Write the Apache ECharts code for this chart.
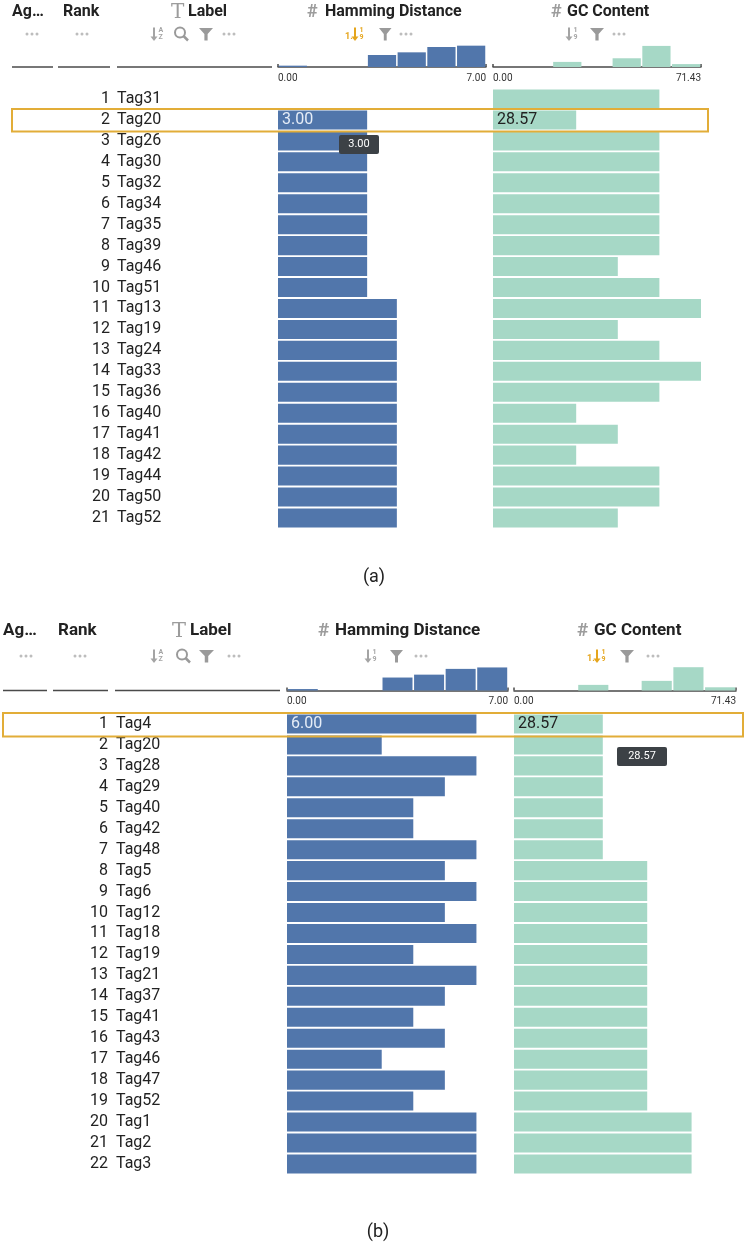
<!DOCTYPE html>
<html>
<head>
<meta charset="utf-8">
<style>
html,body{margin:0;padding:0;background:#fff;}
#chart{width:748px;height:1255px;}
</style>
<script src="https://cdn.jsdelivr.net/npm/echarts@6/dist/echarts.min.js"></script>
</head>
<body>
<div id="chart"></div>
<script>
// ---------- data ----------
const tagsA = ['Tag31','Tag20','Tag26','Tag30','Tag32','Tag34','Tag35','Tag39','Tag46','Tag51','Tag13','Tag19','Tag24','Tag33','Tag36','Tag40','Tag41','Tag42','Tag44','Tag50','Tag52'];
const hammingA = [0,3,3,3,3,3,3,3,3,3,4,4,4,4,4,4,4,4,4,4,4];
const gcA = [57.14,28.57,57.14,57.14,57.14,57.14,57.14,57.14,42.86,57.14,71.43,42.86,57.14,71.43,57.14,28.57,42.86,28.57,57.14,57.14,42.86];

const tagsB = ['Tag4','Tag20','Tag28','Tag29','Tag40','Tag42','Tag48','Tag5','Tag6','Tag12','Tag18','Tag19','Tag21','Tag37','Tag41','Tag43','Tag46','Tag47','Tag52','Tag1','Tag2','Tag3'];
const hammingB = [6,3,6,5,4,4,6,5,6,5,6,4,6,5,4,5,3,5,4,6,6,6];
const gcB = [28.57,28.57,28.57,28.57,28.57,28.57,28.57,42.86,42.86,42.86,42.86,42.86,42.86,42.86,42.86,42.86,42.86,42.86,42.86,57.14,57.14,57.14];

const hamBinCounts = [1,0,0,9,11,15,16];
const gcBinCounts = [0,0,7,0,12,29,4];
const hamMax = 7.00;
const gcMax = 71.43;

const highlightA = 1;   // row index of Tag20 in (a)
const highlightB = 0;   // row index of Tag4 in (b)

// ---------- style ----------
const FONT = 'Roboto, "Noto Sans", sans-serif';
const BLUE = '#5176ab';
const GREEN = '#a6d8c6';
const GRAY = '#a4a4a4';
const ORANGE = '#e5a51c';
const TXT = '#222';

const rowH = 20.95;
const P = {
  a: {top: 88.5, hamL: 278, gcL: 493, w: 208, histTop: 43, histBase: 67, n: tagsA.length, yMaxH: 18, yMaxG: 33},
  b: {top: 713.5, hamL: 287, gcL: 514, w: 221, wg: 222, histTop: 666, histBase: 690.5, n: tagsB.length, yMaxH: 17, yMaxG: 30.5}
};

const ranksA = tagsA.map((t,i)=>String(i+1));
const ranksB = tagsB.map((t,i)=>String(i+1));

function barData(vals, hi, labelColor){
  return vals.map((v,i)=> i===hi ? {value:v, label:{show:true, position:'insideLeft', distance:4, color:labelColor, fontSize:16, fontFamily:FONT, padding:[2,0,0,0], formatter:(p)=>p.value.toFixed(2)}} : v);
}

const grids = [
  {left:P.a.hamL, top:P.a.top, width:P.a.w, height:rowH*P.a.n},
  {left:P.a.gcL, top:P.a.top, width:P.a.w, height:rowH*P.a.n},
  {left:P.a.hamL, top:P.a.histTop, width:P.a.w, height:P.a.histBase-P.a.histTop},
  {left:P.a.gcL, top:P.a.histTop, width:P.a.w, height:P.a.histBase-P.a.histTop},
  {left:P.b.hamL, top:P.b.top, width:P.b.w, height:rowH*P.b.n},
  {left:P.b.gcL, top:P.b.top, width:P.b.wg, height:rowH*P.b.n},
  {left:P.b.hamL, top:P.b.histTop, width:P.b.w, height:P.b.histBase-P.b.histTop},
  {left:P.b.gcL, top:P.b.histTop, width:P.b.wg, height:P.b.histBase-P.b.histTop}
];

const hidVal = (g,max)=>({type:'value', gridIndex:g, min:0, max:max, show:false});
const hidCat = (g,n)=>({type:'category', gridIndex:g, data:Array.from({length:n},(_, i)=>i), show:false, position:'bottom'});
const histAxis = (g,max)=>({type:'value', gridIndex:g, min:0, max:max, interval:max, position:'bottom',
  axisLine:{show:true, lineStyle:{color:'#4a4a4a', width:1.5}},
  axisTick:{show:true, inside:true, length:3, lineStyle:{color:'#4a4a4a', width:1.5}},
  splitLine:{show:false},
  axisLabel:{show:true, fontSize:10, color:'#333', fontFamily:FONT, margin:6, alignMinLabel:'left', alignMaxLabel:'right', formatter:(v)=>v.toFixed(2)}
});

const xAxes = [
  hidVal(0,hamMax), hidVal(1,gcMax),
  hidCat(2,hamBinCounts.length), histAxis(2,hamMax),
  hidCat(3,gcBinCounts.length), histAxis(3,gcMax),
  hidVal(4,hamMax), hidVal(5,gcMax),
  hidCat(6,hamBinCounts.length), histAxis(6,hamMax),
  hidCat(7,gcBinCounts.length), histAxis(7,gcMax)
];

const labelAxis = (g,data,align,margin,fs)=>({type:'category', gridIndex:g, data:data, inverse:true, position:'left',
  axisLine:{show:false}, axisTick:{show:false}, splitLine:{show:false},
  axisLabel:{show:true, interval:0, align:align, margin:margin, fontSize:fs, color:TXT, fontFamily:FONT, padding:[3,0,0,0]}
});
const hidY = (g,data)=>({type:'category', gridIndex:g, data:data, inverse:true, show:false});
const hidYV = (g,max)=>({type:'value', gridIndex:g, min:0, max:max, show:false});

const yAxes = [
  labelAxis(0,ranksA,'right',P.a.hamL-110,16),
  labelAxis(0,tagsA,'left',P.a.hamL-117,16),
  hidY(1,tagsA),
  hidYV(2,P.a.yMaxH),
  hidYV(3,P.a.yMaxG),
  labelAxis(4,ranksB,'right',P.b.hamL-108,16),
  labelAxis(4,tagsB,'left',P.b.hamL-116,16),
  hidY(5,tagsB),
  hidYV(6,P.b.yMaxH),
  hidYV(7,P.b.yMaxG)
];

const rowBar = (xi,yi,data,color)=>({type:'bar', xAxisIndex:xi, yAxisIndex:yi, data:data, barCategoryGap:'9%', itemStyle:{color:color}, silent:true});
const histBar = (xi,yi,data,color)=>({type:'bar', xAxisIndex:xi, yAxisIndex:yi, data:data, barCategoryGap:'5%', itemStyle:{color:color}, silent:true});

const series = [
  rowBar(0,1,barData(hammingA,highlightA,'#e6edf7'),BLUE),
  rowBar(1,2,barData(gcA,highlightA,TXT),GREEN),
  histBar(2,3,hamBinCounts,BLUE),
  histBar(4,4,gcBinCounts,GREEN),
  rowBar(6,6,barData(hammingB,highlightB,'#e6edf7'),BLUE),
  rowBar(7,7,barData(gcB,highlightB,TXT),GREEN),
  histBar(8,8,hamBinCounts,BLUE),
  histBar(10,9,gcBinCounts,GREEN)
];

// ---------- header decorations ----------
const G = [];
function txt(x,y,s,opt,z){
  G.push({type:'text', x:x, y:y, z:z||10, style:Object.assign({text:s, fill:TXT, font:'bold 16px '+FONT, textAlign:'left', textVerticalAlign:'middle'}, opt||{})});
}
function dots(cx,y){
  for(let k=-1;k<=1;k++) G.push({type:'circle', z:10, shape:{cx:cx+k*5, cy:y, r:1.5}, style:{fill:'#bdbdbd'}});
}
function funnel(x,y,w){
  const s = w/13;
  G.push({type:'polygon', z:10, shape:{points:[[x,y-6],[x+13*s,y-6],[x+8*s,y],[x+8*s,y+6.5],[x+5*s,y+6.5],[x+5*s,y]]}, style:{fill:'#9a9a9a'}});
}
function magnifier(x,y){
  G.push({type:'circle', z:10, shape:{cx:x+6, cy:y-1.5, r:5}, style:{fill:'none', stroke:'#9a9a9a', lineWidth:2}});
  G.push({type:'line', z:10, shape:{x1:x+9.5, y1:y+2, x2:x+14, y2:y+6.5}, style:{stroke:'#9a9a9a', lineWidth:2.5}});
}
function sortIcon(x,y,color,one,alpha){
  let ox = x;
  if(one){ txt(ox,y+3,'1.',{font:'bold 9px '+FONT, fill:color}); ox += 8; }
  G.push({type:'line', z:10, shape:{x1:ox+2, y1:y-6.5, x2:ox+2, y2:y+4}, style:{stroke:color, lineWidth:2}});
  G.push({type:'polygon', z:10, shape:{points:[[ox-1.5,y+2.5],[ox+5.5,y+2.5],[ox+2,y+7]]}, style:{fill:color}});
  txt(ox+6.5,y-3.3,alpha?'A':'1',{font:'bold 7px '+FONT, fill:color});
  txt(ox+6.5,y+3.5,alpha?'Z':'9',{font:'bold 7px '+FONT, fill:color});
}
function line(x1,x2,y){
  G.push({type:'line', z:10, shape:{x1:x1, y1:y, x2:x2, y2:y}, style:{stroke:'#4a4a4a', lineWidth:1.5}});
}

// panel (a) header
(function(){
  const ty = 12, iy = 34;
  txt(12,ty,'Ag\u2026');
  txt(63,ty,'Rank');
  txt(171,ty+1,'T',{font:'20px "DejaVu Serif", serif', fill:'#9c9c9c'});
  txt(188,ty,'Label');
  txt(307,ty,'#',{font:'bold 18px '+FONT, fill:'#9c9c9c'});
  txt(325,ty,'Hamming Distance');
  txt(551,ty,'#',{font:'bold 18px '+FONT, fill:'#9c9c9c'});
  txt(567,ty,'GC Content');
  dots(32,iy); dots(82,iy);
  sortIcon(152,iy,GRAY,false,true); magnifier(174,iy); funnel(199,iy,14); dots(229,iy);
  sortIcon(345,iy,ORANGE,true,false); funnel(379,iy,12.5); dots(406,iy);
  sortIcon(567,iy,GRAY,false,false); funnel(590,iy,14); dots(619,iy);
  line(12,53,P.a.histBase); line(58,110,P.a.histBase); line(117,272,P.a.histBase);
})();
// panel (b) header
(function(){
  const ty = 631, iy = 656;
  const f = 'bold 17px ';
  txt(3,ty,'Ag\u2026',{font:f+FONT});
  txt(58,ty,'Rank',{font:f+FONT});
  txt(172,ty+1,'T',{font:'21px "DejaVu Serif", serif', fill:'#9c9c9c'});
  txt(190,ty,'Label',{font:f+FONT});
  txt(318,ty,'#',{font:'bold 19px '+FONT, fill:'#9c9c9c'});
  txt(335,ty,'Hamming Distance',{font:f+FONT});
  txt(577,ty,'#',{font:'bold 19px '+FONT, fill:'#9c9c9c'});
  txt(594,ty,'GC Content',{font:f+FONT});
  dots(26,iy); dots(80,iy);
  sortIcon(152,iy,GRAY,false,true); magnifier(176,iy); funnel(199,iy,15); dots(234,iy);
  sortIcon(366,iy,GRAY,false,false); funnel(390,iy,13); dots(421,iy);
  sortIcon(587,iy,ORANGE,true,false); funnel(620,iy,14); dots(653,iy);
  line(3,47,P.b.histBase); line(53,108,P.b.histBase); line(115,280,P.b.histBase);
})();

// highlight boxes
G.push({type:'rect', z:20, shape:{x:12, y:P.a.top+highlightA*rowH-0.5, width:696, height:rowH+1.5}, style:{fill:'none', stroke:'#e2ad38', lineWidth:2}});
G.push({type:'rect', z:20, shape:{x:3, y:P.b.top+highlightB*rowH-0.5, width:740, height:rowH+2.5}, style:{fill:'none', stroke:'#e2ad38', lineWidth:2}});

// tooltips
function tip(x,y,w,s){
  G.push({type:'rect', z:25, shape:{x:x, y:y, width:w, height:19, r:2}, style:{fill:'#3c4146'}});
  txt(x+w/2,y+9.5,s,{font:'11px '+FONT, fill:'#fff', textAlign:'center'},30);
}
tip(339,135,40,hammingA[highlightA].toFixed(2));
tip(617,747,50,gcB[highlightB].toFixed(2));

// captions
txt(374,577,'(a)',{font:'18px '+FONT, textAlign:'center'});
txt(378,1232,'(b)',{font:'18px '+FONT, textAlign:'center'});

const chart = echarts.init(document.getElementById('chart'));
chart.setOption({
  animation:false,
  backgroundColor:'#fff',
  textStyle:{fontFamily:FONT},
  grid:grids,
  xAxis:xAxes,
  yAxis:yAxes,
  series:series,
  graphic:G
});
</script>
</body>
</html>
